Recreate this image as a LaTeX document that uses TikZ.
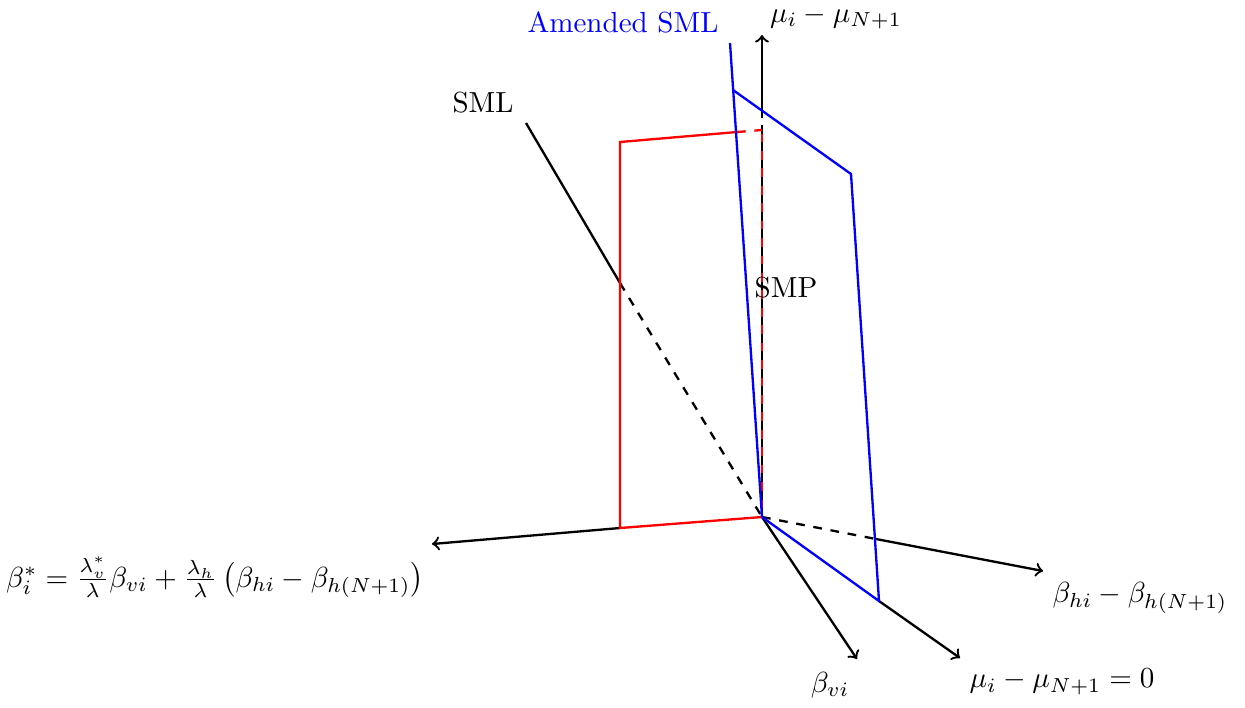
\documentclass[tikz,border=0pt]{standalone}
\usepackage{amsmath}
\usepackage{amssymb}
\begin{document}
\begin{tikzpicture}[x=0.0121cm,y=-0.0121cm,thick]
  \useasboundingbox (0,0) rectangle (1245,707);
  \coordinate (O) at (762,517);
  \coordinate (Mu) at (762,35);
  \coordinate (MuS) at (762,118);
  \coordinate (Bs) at (432,544);
  \coordinate (Bs0) at (620,528);
  \coordinate (Bh) at (1043,571);
  \coordinate (Bh0) at (876,539);
  \coordinate (Bv) at (857,659);
  \coordinate (Mz) at (960,658);
  \coordinate (Mz0) at (879,601);
  \coordinate (S1) at (526,123);
  \coordinate (S2) at (620,283);
  \coordinate (R1) at (620,142);
  \coordinate (R2) at (737,132);
  \coordinate (R3) at (762,130);
  \coordinate (A1) at (730,43);
  \coordinate (A2) at (733,90);
  \coordinate (A3) at (851,174);
  % axes
  \draw[dashed] (O) -- (MuS);
  \draw[->] (MuS) -- (Mu);
  \draw[->] (Bs0) -- (Bs);
  \draw[dashed] (O) -- (Bh0);
  \draw[->] (Bh0) -- (Bh);
  \draw[->] (O) -- (Bv);
  \draw[->] (Mz0) -- (Mz);
  % SML
  \draw (S1) -- (S2);
  \draw[dashed] (S2) -- (O);
  % red plane
  \draw[red] (O) -- (Bs0) -- (R1) -- (R2);
  \draw[red,dashed] (R2) -- (R3);
  \draw[red,dash pattern=on 3pt off 3pt,dash phase=3pt] (O) -- (R3);
  % blue plane
  \draw[blue] (A1) -- (O);
  \draw[blue] (A2) -- (A3) -- (Mz0) -- (O);
  % labels
  \node[blue] (amL) at (623,22) {Amended SML};
  \node (muL) at (836,17) {$\mu_i - \mu_{N+1}$};
  \node (smlL) at (483,103) {SML};
  \node (smpL) at (786,288) {SMP};
  \node (bsL) at (215,577) {$\beta_i^* = \frac{\lambda_v^*}{\lambda}\beta_{vi} + \frac{\lambda_h}{\lambda}\left(\beta_{hi} - \beta_{h(N+1)}\right)$};
  \node (bhL) at (1140,598) {$\beta_{hi} - \beta_{h(N+1)}$};
  \node (bvL) at (830,685) {$\beta_{vi}$};
  \node (mzL) at (1062,682) {$\mu_i - \mu_{N+1} = 0$};
\end{tikzpicture}
\end{document}
